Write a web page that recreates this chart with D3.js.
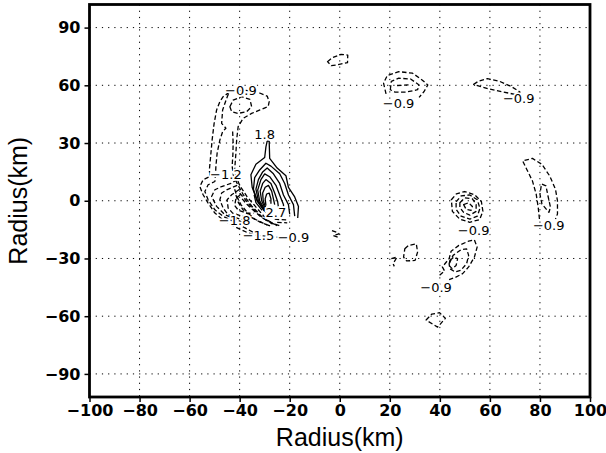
<!DOCTYPE html>
<html>
<head>
<meta charset="utf-8">
<script src="https://cdn.jsdelivr.net/npm/d3@7"></script>
<style>
  body { margin: 0; background: #fff; }
  .tick text { font-family: "DejaVu Sans", sans-serif; font-weight: bold; font-size: 16px; fill: #000; }
  .axisTitle { font-family: "Liberation Sans", Arial, sans-serif; font-size: 25px; fill: #000; }
  .clabel { font-family: "DejaVu Sans", sans-serif; font-size: 13px; fill: #000;
            stroke: #fff; stroke-width: 3.5px; paint-order: stroke; }
</style>
</head>
<body>
<div id="chart"></div>
<script>
// Tick values
var xTicks = [-100, -80, -60, -40, -20, 0, 20, 40, 60, 80, 100];
var yTicks = [-90, -60, -30, 0, 30, 60, 90];

// Contour polylines, [x km, y km]
// west negative band ("C" shape)
var westOuter = [[-25,-13],[-29,-10],[-33,-4],[-37,2],[-40,8],[-41.9,14],[-41.9,17.8],[-41.5,24.7],[-41.2,31.6],
  [-40.6,38.5],[-38.6,42.8],[-35.2,45.4],[-31.9,47.2],[-28.6,48.9],[-28.2,51.5],[-29,54.4],[-32,56],[-35,57],
  [-39,57.5],[-44,56.5],[-46.6,54.1],[-47.9,51.5],[-49.2,47.2],[-50.2,40.2],[-51,31.6],[-51.6,23],[-52.1,16.1],
  [-51.9,12.6],[-54.6,10.9],[-55.9,7.4],[-54.6,3.1],[-52.6,-1.2],[-49.9,-6.4],[-46.6,-10],[-42,-13.5],
  [-37,-16.5],[-33,-18],[-27,-18.8],[-20,-19.2]];
var westInner = [[-44.5,55.5],[-45.2,53.2],[-46.8,47.2],[-47.2,40.2],[-45.5,37.7],[-46.8,35.9],[-47.9,31.6],
  [-49,24.7],[-49.5,17.8],[-49.6,14.5],[-49.9,10],[-52.6,8.3],[-53.9,4.8],[-52.6,0.5],[-49.9,-4.7],
  [-46.6,-8.1],[-42,-11],[-38,-14],[-34.5,-16.5]];
var westTopLoop = [[-43.9,48.9],[-42.6,52.3],[-39.2,54.1],[-35.9,52.7],[-35.2,48.9],[-37.2,46.3],[-40.6,45.4],[-43.2,46.3]];
var westRight = [[-42.8,36],[-42.6,30],[-42.7,24],[-43,18],[-42.5,13],[-41,9],[-38.5,3],[-35,-3],[-31,-8.5],[-27,-12]];
var lobe3 = [[-41,11],[-43.5,9],[-47.2,7.4],[-49.9,5.7],[-51.2,2.2],[-49.2,-2.9],[-45.9,-7.3],[-41,-10],[-37.5,-12]];
var lobe4 = [[-41,8],[-45.2,5.7],[-47.2,4],[-47.9,0.5],[-46.6,-3.8],[-44.6,-7.3],[-40,-9.5],[-36,-10.5]];
var lobe5 = [[-40,6],[-43.2,3.1],[-45,0.5],[-44.6,-3.8],[-42.8,-6.4],[-39,-8],[-35.5,-8.5]];
var lobe6 = [[-39.5,3.5],[-41.5,1],[-42,-2.5],[-40.5,-5],[-37,-6.5],[-34.5,-6.5]];
var band1 = [[-40,4],[-38,1],[-35.5,-3],[-32.5,-7],[-29.5,-10],[-26,-12.5]];
var band2 = [[-39,1],[-37,-2],[-34.5,-5],[-31.5,-8.5],[-28,-11],[-24,-13]];
var band3 = [[-42,6],[-41,2],[-39.5,-2],[-37,-6],[-34,-9.5],[-30,-12],[-27,-13.5]];
var band4 = [[-41.5,3],[-40.5,-1],[-38.5,-5],[-35.5,-8.5],[-32,-11],[-29,-12.5]];
var dashA = [[-26,-9.6],[-21,-10]];
var dashB = [[-25,-11.2],[-21,-11.5]];
var tick0 = [[-3.1,-15.5],[-1.1,-16.4],[-0.3,-17.2],[-2.6,-18.1],[-0.8,-18.9]];

// positive core (solid)
var pos18 = [[-29.5,-6],[-30.5,-4.5],[-33,0],[-35,7],[-35.5,13.5],[-33.5,19],[-30,22.5],[-29.5,28],[-29,31],
  [-28.2,31],[-28,22],[-25,17],[-21.5,13],[-20.5,7],[-18,2],[-16.5,-3],[-16.8,-9]];
var pos21 = [[-30,-5.5],[-33,0],[-34.5,6],[-34,12],[-32,16],[-29.5,19.5],[-27.5,18],[-24,14],[-22,9],[-20.5,3],[-18.5,-2],[-18,-8]];
var pos24 = [[-30,-5],[-32.5,0],[-33.5,6],[-32.5,11],[-30.8,15],[-29,17],[-26.5,14],[-24,9],[-22.5,3],[-20.5,-2],[-20,-7]];
var pos27 = [[-30,-4.5],[-32,0],[-32.8,5.5],[-31.5,11],[-30,14],[-28,12.5],[-25.5,8],[-24,3],[-22.5,-2],[-22.3,-5.5]];
var pos30 = [[-29.8,-4],[-31.2,0],[-31.8,5],[-30.8,9],[-29.5,11],[-27.5,9],[-26,4],[-24.8,-0.5],[-24.5,-3.5]];
var pos33 = [[-29.6,-3.5],[-30.6,0],[-30.8,4],[-29.8,7],[-28.5,8],[-27.2,5],[-26.5,1],[-26,-2]];
var pos36 = [[-29.5,-2.5],[-29.8,1],[-29.2,3.5],[-28.2,4],[-27.5,1],[-27.5,-1.5]];
var pos39 = [[-31,-5],[-33.5,-1],[-34.2,3]];

// scattered negative cells
var northLoop = [[-4.9,72.3],[-2.9,74.4],[0.5,76.1],[3.2,75.7],[3.1,71.8],[-1.1,70.6],[-3.4,70.2]];
var neOuter = [[18.5,55.5],[17.5,61.1],[19,65.1],[23.6,67.1],[29.1,66.3],[32.9,62.8],[35.2,60.2],[33.7,56.8],[31.7,53.7]];
var neInner = [[20.2,57.7],[20.6,62],[23.6,63.7],[28.3,63.3],[31.7,60.2],[31.1,57.7],[26.7,56.5],[22.1,56.5]];
var neDash = [[22.9,59.9],[27.5,60.2]];
var eastArc = [[53.5,60.5],[55.5,62.2],[59,63.5],[64,62],[68.5,59.4],[72,56.5],[70,55.3],[65.4,56.5],[59.2,58.2]];
var farEastOuter = [[79.8,-9.5],[79.3,-3.4],[78.5,3.4],[77,10.3],[74.7,16.4],[73.1,20.7],[77,22],[80.8,18.9],
  [83.9,12.9],[86.2,6],[87,0],[87,-6.9],[86.2,-9.5]];
var farEastInner = [[80.8,8.6],[82.4,7.7],[83.2,2.6],[84.2,-3.4],[83.6,-6],[80.8,-1.7],[80,3.4],[80.5,7.7]];
var cell1 = [[44.6,0.5],[46.6,3.6],[49.9,4.8],[53.9,3.1],[56.6,-0.4],[57.2,-5.5],[55.9,-9.8],[51.9,-11.2],[47.9,-9.5],[45,-5.5]];
var cell2 = [[46.5,-0.5],[48.5,2.5],[52,3],[55,0.5],[56,-4],[55,-8],[52,-9.5],[48.5,-8],[46.5,-4.5]];
var cell3 = [[48,-1],[50,1.5],[53,1],[54.5,-2],[54.5,-5.5],[52,-7.5],[49.5,-6],[48,-3.5]];
var cell4 = [[49.5,-2],[51.5,-1],[53,-3],[52.5,-5],[50.5,-4.5]];
var southOuter = [[39.9,-38.7],[41.9,-36.5],[41,-34.4],[43.7,-30.1],[44.5,-26.2],[47.6,-23.2],[51.5,-21],[53.8,-20.3],
  [54.9,-24.1],[53.8,-29.3],[51.5,-34.4],[49.1,-37.9],[46.1,-39.9],[43.7,-41]];
var southMid = [[43.7,-32.7],[45.3,-28.4],[48.4,-25.5],[50.7,-25],[51.5,-28.4],[50.7,-32.7],[48.4,-36.1],[46.1,-37],[44,-35.3]];
var southIn = [[44,-31],[45.6,-29.3],[47.1,-30.1],[46.5,-33.6],[44.9,-35.3],[43.7,-33.6]];
var smallCell = [[26,-25],[27.5,-23.2],[30.6,-22.4],[31.1,-26.7],[30.1,-31],[26.7,-31.3],[25.5,-29.3]];
var tinyCell = [[20.6,-30.1],[22.9,-29.3],[21.3,-32.7],[21.8,-34.1]];
var lowCell = [[34.5,-62],[36.8,-58.9],[39.9,-58.2],[42.2,-61.1],[39.1,-65.7]];

var contours = [
  {level: -0.9, pts: westOuter}, {level: -1.2, pts: westInner}, {level: -1.2, pts: westTopLoop, closed: true},
  {level: -1.2, pts: westRight}, {level: -1.5, pts: lobe3}, {level: -1.8, pts: lobe4}, {level: -2.1, pts: lobe5},
  {level: -2.4, pts: lobe6}, {level: -2.7, pts: band1}, {level: -3.0, pts: band2},
  {level: -3.3, pts: band3}, {level: -3.6, pts: band4},
  {level: -0.9, pts: dashA}, {level: -0.9, pts: dashB}, {level: -0.9, pts: tick0},
  {level: 1.8, pts: pos18}, {level: 2.1, pts: pos21}, {level: 2.4, pts: pos24}, {level: 2.7, pts: pos27},
  {level: 3.0, pts: pos30}, {level: 3.3, pts: pos33}, {level: 3.6, pts: pos36}, {level: 3.9, pts: pos39},
  {level: -0.9, pts: northLoop, closed: true}, {level: -0.9, pts: neOuter}, {level: -1.2, pts: neInner, closed: true},
  {level: -1.5, pts: neDash}, {level: -0.9, pts: eastArc, closed: true},
  {level: -0.9, pts: farEastOuter}, {level: -1.2, pts: farEastInner, closed: true},
  {level: -0.9, pts: cell1, closed: true}, {level: -1.2, pts: cell2, closed: true},
  {level: -1.5, pts: cell3, closed: true}, {level: -1.8, pts: cell4, closed: true},
  {level: -0.9, pts: southOuter}, {level: -1.2, pts: southMid, closed: true}, {level: -1.5, pts: southIn, closed: true},
  {level: -0.9, pts: smallCell, closed: true}, {level: -0.9, pts: tinyCell}, {level: -0.9, pts: lowCell, closed: true}
];

var labelText = ["−0.9", "1.8", "−1.2", "2.7", "−1.8", "−1.5", "−0.9", "−0.9", "−0.9", "−0.9", "−0.9", "−0.9"];
var labelX = [-39.5, -30, -45.5, -25.5, -42, -32.5, -18.5, 23.5, 71.5, 83.5, 53.5, 38.5];
var labelY = [57.5, 34.5, 13.5, -6, -10.2, -18, -19, 50.8, 53, -12.9, -15.5, -44.8];

var svgWidth = 606;
var svgHeight = 453;
var plot = {left: 89.5, right: 590, top: 4.5, bottom: 397};

var svg = d3.select("#chart")
    .append("svg")
    .attr("width", svgWidth)
    .attr("height", svgHeight);

var xScale = d3.scaleLinear().domain([-100, 100]).range([plot.left, plot.right]);
var yScale = d3.scaleLinear().domain([-102, 102]).range([plot.bottom, plot.top]);

// dotted grid
svg.append("g").selectAll("line")
    .data(xTicks.filter(d => d > -100 && d < 100))
    .enter().append("line")
    .attr("x1", d => xScale(d)).attr("x2", d => xScale(d))
    .attr("y1", plot.top).attr("y2", plot.bottom)
    .attr("stroke", "#000").attr("stroke-width", 1).attr("stroke-dasharray", "1.2,5");
svg.append("g").selectAll("line")
    .data(yTicks)
    .enter().append("line")
    .attr("y1", d => yScale(d)).attr("y2", d => yScale(d))
    .attr("x1", plot.left).attr("x2", plot.right)
    .attr("stroke", "#000").attr("stroke-width", 1).attr("stroke-dasharray", "1.2,5");

// contours
var line = d3.line().x(d => xScale(d[0])).y(d => yScale(d[1]));
var lineClosed = d3.line().x(d => xScale(d[0])).y(d => yScale(d[1])).curve(d3.curveLinearClosed);

svg.append("g").selectAll("path")
    .data(contours)
    .enter().append("path")
    .attr("d", d => d.closed ? lineClosed(d.pts) : line(d.pts))
    .attr("fill", "none")
    .attr("stroke", "#000")
    .attr("stroke-width", 1.3)
    .attr("stroke-linejoin", "round")
    .attr("stroke-dasharray", d => d.level < 0 ? "4.5,2.5" : null);

// contour labels
svg.append("g").selectAll("text")
    .data(labelText)
    .enter().append("text")
    .attr("class", "clabel")
    .attr("x", (d, i) => xScale(labelX[i]))
    .attr("y", (d, i) => yScale(labelY[i]))
    .attr("dy", "0.36em")
    .attr("text-anchor", "middle")
    .text(d => d);

// axes
var bottomAxis = d3.axisBottom(xScale).tickValues(xTicks).tickSize(5).tickPadding(3);
var leftAxis = d3.axisLeft(yScale).tickValues(yTicks).tickSize(5).tickPadding(4);

var gx = svg.append("g")
    .attr("transform", `translate(0, ${plot.bottom})`)
    .call(bottomAxis);
var gy = svg.append("g")
    .attr("transform", `translate(${plot.left}, 0)`)
    .call(leftAxis);
[gx, gy].forEach(function (g) {
    g.select(".domain").remove();
    g.selectAll(".tick line").attr("stroke", "#000").attr("stroke-width", 1.5);
});

// frame
svg.append("rect")
    .attr("x", plot.left).attr("y", plot.top)
    .attr("width", plot.right - plot.left).attr("height", plot.bottom - plot.top)
    .attr("fill", "none").attr("stroke", "#000").attr("stroke-width", 2.8);

// axis titles
svg.append("text")
    .attr("class", "axisTitle")
    .attr("x", (plot.left + plot.right) / 2)
    .attr("y", 446)
    .attr("text-anchor", "middle")
    .text("Radius(km)");

svg.append("text")
    .attr("class", "axisTitle")
    .attr("transform", `translate(27, ${(plot.top + plot.bottom) / 2}) rotate(-90)`)
    .attr("text-anchor", "middle")
    .text("Radius(km)");
</script>
</body>
</html>
